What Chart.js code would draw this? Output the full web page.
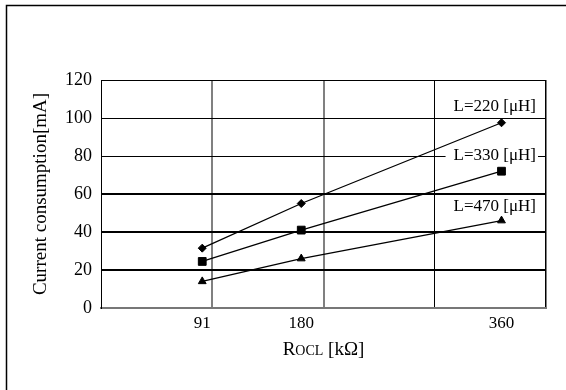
<!DOCTYPE html>
<html>
<head>
<meta charset="utf-8">
<script src="https://cdn.jsdelivr.net/npm/chart.js@4.4.0/dist/chart.umd.min.js"></script>
<style>
  html, body { margin: 0; padding: 0; background: #fff; }
  #wrap { width: 566px; height: 390px; position: relative; }
</style>
</head>
<body>
<div id="wrap"><canvas id="c" width="566" height="390"></canvas></div>
<script>
// Resistance values (kΩ) and current consumption (mA) per inductance
const resistances = [91, 180, 360];
const seriesNames = ['L=220 [μH]', 'L=330 [μH]', 'L=470 [μH]'];
const current220 = [31.5, 55, 97.5];
const current330 = [24.5, 41, 72];
const current470 = [14, 26, 46];
const yTickValues = [0, 20, 40, 60, 80, 100, 120];
const xGridValues = [0, 100, 200, 300, 400];

const SERIF = "'Liberation Serif', 'Times New Roman', serif";

const toPoints = vals => vals.map((v, i) => ({ x: resistances[i], y: v }));

// White page with a frame line along the top and left edges
const pageFrame = {
  id: 'pageFrame',
  beforeDraw(chart) {
    const { ctx, width, height } = chart;
    ctx.save();
    ctx.fillStyle = '#fff';
    ctx.fillRect(0, 0, width, height);
    ctx.strokeStyle = '#000';
    ctx.lineWidth = 1.5;
    ctx.beginPath();
    ctx.moveTo(6.5, height);
    ctx.lineTo(6.5, 5.5);
    ctx.lineTo(width, 5.5);
    ctx.stroke();
    ctx.restore();
  }
};

// Inductance tags at the right of each curve, on a white box
const seriesTags = {
  id: 'seriesTags',
  afterDatasetsDraw(chart, args, opts) {
    const { ctx, chartArea, scales: { y } } = chart;
    ctx.save();
    ctx.font = '17px ' + SERIF;
    ctx.textAlign = 'right';
    ctx.textBaseline = 'middle';
    seriesNames.forEach((name, i) => {
      const yy = y.getPixelForValue(opts.levels[i]);
      const right = chartArea.right - 10;
      const w = ctx.measureText(name).width;
      ctx.fillStyle = '#fff';
      ctx.fillRect(right - w - 8, yy - 9, w + 10, 18);
      ctx.fillStyle = '#000';
      ctx.fillText(name, right, yy);
    });
    ctx.restore();
  }
};

// X axis title in small capitals: R + OCL + [kΩ]
const xTitle = {
  id: 'xTitle',
  afterDraw(chart, args, opts) {
    const { ctx, chartArea } = chart;
    const parts = [
      { t: 'R', size: 19 },
      { t: 'OCL', size: 14 },
      { t: ' [kΩ]', size: 19 }
    ];
    ctx.save();
    ctx.fillStyle = '#000';
    ctx.textBaseline = 'alphabetic';
    ctx.textAlign = 'left';
    let total = 0;
    parts.forEach(p => {
      ctx.font = p.size + 'px ' + SERIF;
      p.w = ctx.measureText(p.t).width;
      total += p.w;
    });
    let x = (chartArea.left + chartArea.right) / 2 - total / 2;
    const base = chartArea.bottom + opts.offset;
    parts.forEach(p => {
      ctx.font = p.size + 'px ' + SERIF;
      ctx.fillText(p.t, x, base);
      x += p.w;
    });
    ctx.restore();
  }
};

const lineStyle = {
  borderColor: '#000',
  backgroundColor: '#000',
  borderWidth: 1.3,
  pointBorderColor: '#000',
  pointBackgroundColor: '#000',
  pointBorderWidth: 1,
  tension: 0
};

new Chart(document.getElementById('c'), {
  type: 'line',
  data: {
    datasets: [
      Object.assign({ label: seriesNames[0], data: toPoints(current220), pointStyle: 'rectRot', pointRadius: 4 }, lineStyle),
      Object.assign({ label: seriesNames[1], data: toPoints(current330), pointStyle: 'rect', pointRadius: 5.5 }, lineStyle),
      Object.assign({ label: seriesNames[2], data: toPoints(current470), pointStyle: 'triangle', pointRadius: 4.5 }, lineStyle)
    ]
  },
  options: {
    responsive: false,
    devicePixelRatio: 1,
    animation: false,
    events: [],
    layout: { padding: { top: 80, right: 20, left: 0, bottom: 0 } },
    plugins: {
      legend: { display: false },
      tooltip: { enabled: false },
      seriesTags: { levels: [106, 80, 53.5] },
      xTitle: { offset: 47 }
    },
    scales: {
      x: {
        type: 'linear',
        min: 0,
        max: 400,
        afterBuildTicks: s => {
          const vals = [...new Set([...xGridValues, ...resistances])].sort((a, b) => a - b);
          s.ticks = vals.map(v => ({ value: v }));
        },
        afterFit: s => { s.height = 82; },
        ticks: {
          autoSkip: false,
          maxRotation: 0,
          padding: 5,
          color: '#000',
          font: { family: SERIF, size: 17 },
          callback: v => resistances.includes(v) ? String(v) : ''
        },
        grid: {
          drawTicks: false,
          color: c => {
            const v = c.tick && c.tick.value;
            if (v === 100 || v === 200) return '#808080';
            if (v === 300 || v === 400) return '#000';
            return 'rgba(0,0,0,0)';
          },
          lineWidth: c => {
            const v = c.tick && c.tick.value;
            if (v === 100 || v === 200) return 2;
            if (v === 400) return 1.5;
            return 1;
          }
        },
        border: { color: '#777', width: 2 }
      },
      y: {
        min: 0,
        max: 120,
        afterBuildTicks: s => { s.ticks = yTickValues.map(v => ({ value: v })); },
        afterFit: s => { s.width = 101; },
        ticks: {
          padding: 9,
          color: '#000',
          font: { family: SERIF, size: 18 }
        },
        grid: {
          drawTicks: false,
          color: c => (c.tick && c.tick.value === 0) ? 'rgba(0,0,0,0)' : '#000',
          lineWidth: c => {
            const v = c.tick && c.tick.value;
            return (v === 20 || v === 40 || v === 60) ? 2 : 1;
          }
        },
        border: { color: '#000', width: 1 },
        title: {
          display: true,
          text: 'Current consumption[mA]',
          color: '#000',
          font: { family: SERIF, size: 19 },
          padding: { top: 30, bottom: 0 }
        }
      }
    }
  },
  plugins: [pageFrame, seriesTags, xTitle]
});
</script>
</body>
</html>
